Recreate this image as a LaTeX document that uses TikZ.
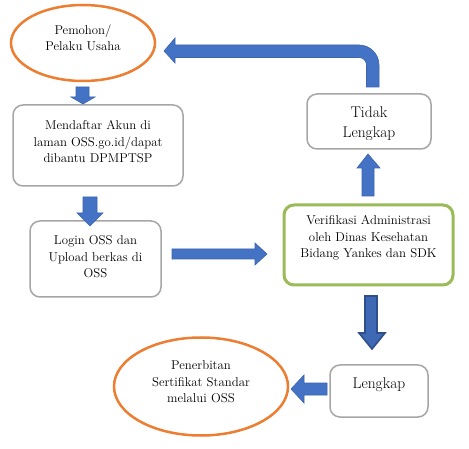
\documentclass[tikz,border=0pt]{standalone}
\usetikzlibrary{shapes.geometric}
\definecolor{arrblue}{HTML}{4472C4}
\definecolor{arredge}{HTML}{3B64AE}
\definecolor{darkedge}{HTML}{2F4F8A}
\definecolor{orangeline}{HTML}{ED7D31}
\definecolor{grayline}{HTML}{A6A6A6}
\definecolor{greenline}{HTML}{9BBB59}
\tikzset{
  blockarr/.style={fill=arrblue, draw=arredge, line width=0.6pt, line join=miter},
  darkarr/.style={fill=arrblue!92!black, draw=darkedge, line width=1.6pt, line join=miter},
  oval/.style={ellipse, draw=orangeline, line width=2.5pt, fill=white, inner sep=0pt},
  graybox/.style={rectangle, rounded corners=10pt, draw=grayline, line width=1.5pt, fill=white, inner sep=0pt},
  greenbox/.style={rectangle, rounded corners=10pt, draw=greenline, line width=3pt, fill=white, inner sep=0pt},
  txt/.style={align=center, inner sep=0pt, font=\fontsize{12.8}{16.5}\selectfont},
  bigtxt/.style={align=center, inner sep=0pt, font=\fontsize{15.5}{20}\selectfont},
}
\begin{document}
\begin{tikzpicture}[x=1pt, y=-1pt]
\useasboundingbox (0,0) rectangle (469,449);
\fill[white] (0,0) rectangle (469,449);

% shapes
\node[oval, minimum width=144pt, minimum height=76pt] (pemohon) at (83,43) {};
\node[graybox, minimum width=170pt, minimum height=81pt] (daftar) at (98,145.5) {};
\node[graybox, minimum width=131pt, minimum height=76pt] (login) at (95.5,259) {};
\node[greenbox, minimum width=169pt, minimum height=80pt] (verif) at (368.5,245) {};
\node[graybox, minimum width=124pt, minimum height=55pt] (tidak) at (369,121.5) {};
\node[graybox, minimum width=98pt, minimum height=52pt] (lengkap) at (379,391) {};
\node[oval, minimum width=174pt, minimum height=98pt] (terbit) at (201,386.5) {};

% texts
\node[txt] (tpemohon) at (83,38) {Pemohon/\\Pelaku Usaha};
\node[txt] (tdaftar) at (98,142) {Mendaftar Akun di\\laman OSS.go.id/dapat\\dibantu DPMPTSP};
\node[txt] (tlogin) at (95.5,257) {Login OSS dan\\Upload berkas di\\OSS};
\node[txt] (tverif) at (368.5,238) {Verifikasi Administrasi\\oleh Dinas Kesehatan\\Bidang Yankes dan SDK};
\begin{scope}
  \clip (300,90) rectangle (440,139.5);
  \node[bigtxt] (ttidak) at (369,124) {Tidak\\Lengkap};
\end{scope}
\node[bigtxt] (tlengkap) at (379,385) {Lengkap};
\node[txt] (tterbit) at (201,382) {Penerbitan\\Sertifikat Standar\\melalui OSS};

% block arrows
% pemohon -> daftar
\draw[blockarr] (76,87) -- (89,87) -- (89,97) -- (95,97) -- (83,104) -- (71,97) -- (76,97) -- cycle;
% daftar -> login
\draw[blockarr] (83,197) -- (97,197) -- (97,213) -- (103,213) -- (90,226) -- (77,213) -- (83,213) -- cycle;
% login -> verif
\draw[blockarr] (172,249) -- (255,249) -- (255,243) -- (267,254) -- (255,265) -- (255,259) -- (172,259) -- cycle;
% verif -> tidak
\draw[blockarr] (362,196) -- (362,168) -- (357,168) -- (368,154) -- (380,168) -- (374,168) -- (374,196) -- cycle;
% tidak -> pemohon (U arrow)
\draw[blockarr] (164,51) -- (175,38) -- (175,45) -- (359,45) arc[start angle=-90, end angle=0, radius=20] -- (379,87) -- (366.5,87) -- (366.5,65) arc[start angle=0, end angle=-90, radius=7.5] -- (175,57.5) -- (175,63) -- cycle;
% verif -> lengkap
\draw[darkarr] (365,296) -- (377,296) -- (377,333) -- (385,333) -- (372,349) -- (359,333) -- (365,333) -- cycle;
% lengkap -> terbit
\draw[blockarr] (327,383) -- (327,395) -- (304,395) -- (304,403) -- (291,389) -- (304,375) -- (304,383) -- cycle;
\end{tikzpicture}
\end{document}
